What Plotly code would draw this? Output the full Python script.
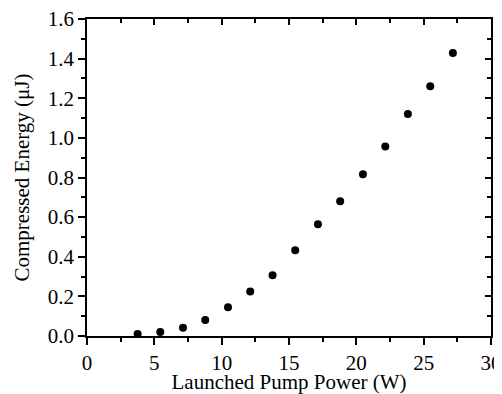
import plotly.graph_objects as go

pump_power = [3.76, 5.44, 7.13, 8.78, 10.47, 12.12, 13.78, 15.46, 17.15, 18.8, 20.49, 22.15, 23.83, 25.49, 27.17]
energy = [0.01, 0.02, 0.042, 0.081, 0.145, 0.224, 0.307, 0.433, 0.564, 0.68, 0.817, 0.957, 1.12, 1.26, 1.428]

x_range = [0, 30]
y_range = [0, 1.6]
x_ticks = [0, 5, 10, 15, 20, 25, 30]
y_ticks = [0.0, 0.2, 0.4, 0.6, 0.8, 1.0, 1.2, 1.4, 1.6]
y_tick_text = [f"{v:.1f}" for v in y_ticks]
x_minor = [2.5, 7.5, 12.5, 17.5, 22.5, 27.5]
y_minor = [0.1, 0.3, 0.5, 0.7, 0.9, 1.1, 1.3, 1.5]

FONT = "Liberation Serif"

fig = go.Figure()
fig.add_trace(go.Scatter(
    x=pump_power, y=energy, mode="markers",
    marker=dict(color="black", size=8, line=dict(width=0)),
    showlegend=False, cliponaxis=False,
))
fig.add_trace(go.Scatter(x=[None], y=[None], xaxis="x2", yaxis="y2",
                         showlegend=False, hoverinfo="skip"))

axis_common = dict(showgrid=False, zeroline=False, linecolor="black", linewidth=1.5,
                   tickcolor="black", tickwidth=1.5, ticklen=7, automargin=False,
                   ticklabeloverflow="allow",
                   tickfont=dict(family=FONT, size=21, color="black"))

fig.update_layout(
    width=494, height=386,
    margin=dict(l=79, r=11, t=11, b=58),
    paper_bgcolor="white", plot_bgcolor="white",
    font=dict(family=FONT, color="black"),
    xaxis=dict(range=x_range, tickvals=x_ticks, ticks="outside", showline=True, mirror=True,
               minor=dict(ticks="outside", ticklen=4, tickvals=x_minor,
                          tickcolor="black", tickwidth=1.5),
               title=dict(text="Launched Pump Power (W)", font=dict(family=FONT, size=21), standoff=5),
               **axis_common),
    yaxis=dict(range=y_range, tickvals=y_ticks, ticktext=y_tick_text, ticks="outside",
               showline=True, mirror=True,
               minor=dict(ticks="outside", ticklen=4, tickvals=y_minor,
                          tickcolor="black", tickwidth=1.5),
               title=dict(text="Compressed Energy (μJ)", font=dict(family=FONT, size=21), standoff=12),
               **axis_common),
    xaxis2=dict(range=x_range, overlaying="x", side="top", anchor="y", tickvals=x_ticks,
                ticks="inside", showticklabels=False, showline=False, showgrid=False, zeroline=False,
                tickcolor="black", tickwidth=1.5, ticklen=6, automargin=False,
                minor=dict(ticks="inside", ticklen=4, tickvals=x_minor,
                           tickcolor="black", tickwidth=1.5)),
    yaxis2=dict(range=y_range, overlaying="y", side="right", anchor="x", tickvals=y_ticks,
                ticks="inside", showticklabels=False, showline=False, showgrid=False, zeroline=False,
                tickcolor="black", tickwidth=1.5, ticklen=6, automargin=False,
                minor=dict(ticks="inside", ticklen=4, tickvals=y_minor,
                           tickcolor="black", tickwidth=1.5)),
)

fig.write_html("out.html")
